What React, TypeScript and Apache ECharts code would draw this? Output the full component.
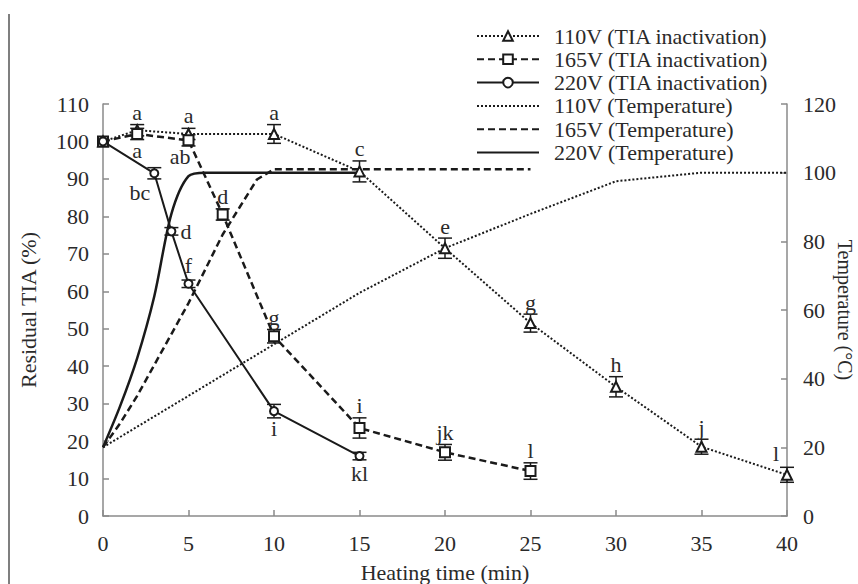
import React, { useEffect, useRef } from "react";
import * as echarts from "echarts";

// Residual TIA (%) — 110 V
const time110 = [0, 2, 5, 10, 15, 20, 25, 30, 35, 40];
const tia110 = [100, 103, 102, 102, 92, 71.5, 51.5, 34.5, 18.5, 11];
const err110 = [0, 1.5, 1.5, 2.5, 2.8, 2.7, 2.4, 2.7, 2, 2];
const letters110 = ["", "a", "a", "a", "c", "e", "g", "h", "j", "l"];
const pos110 = ["", "top", "top", "top", "top", "top", "top", "top", "top", "topleft"];

// Residual TIA (%) — 165 V
const time165 = [0, 2, 5, 7, 10, 15, 20, 25];
const tia165 = [100, 102, 100.3, 80.5, 48, 23.5, 17, 12];
const err165 = [0, 1.5, 1.5, 1.5, 1.8, 2.7, 2.1, 2.2];
const letters165 = ["", "a", "ab", "d", "g", "i", "jk", "l"];
const pos165 = ["", "bottom", "bottomleft", "top", "top", "top", "top", "top"];

// Residual TIA (%) — 220 V
const time220 = [0, 3, 4, 5, 10, 15];
const tia220 = [100, 91.5, 76, 62, 28, 16];
const err220 = [0, 1.5, 1, 1, 1.8, 1];
const letters220 = ["", "bc", "d", "f", "i", "kl"];
const pos220 = ["", "bcpos", "right", "top", "bottom", "bottom"];

// Temperature (°C)
const tTime110 = [0, 5, 10, 15, 20, 25, 30, 35, 40];
const temp110 = [20, 35, 50, 65, 78, 88, 97.5, 100, 100];
const tTime165 = [0, 1, 2, 3, 4, 5, 6, 7, 8, 9, 10, 15, 20, 25];
const temp165 = [20, 27, 35, 44, 53, 62, 72, 82, 90, 98, 101, 101, 101, 101];
const tTime220 = [0, 1, 2, 3, 4, 5, 6, 10, 15];
const temp220 = [20, 32, 46, 64, 88, 99, 100, 100, 100];

const xTicks = { min: 0, max: 40, interval: 5 };
const yLeftTicks = { min: 0, max: 110, interval: 10 };
const yRightTicks = { min: 0, max: 120, interval: 20 };

const seriesNames = [
  "110V (TIA inactivation)",
  "165V (TIA inactivation)",
  "220V (TIA inactivation)",
  "110V (Temperature)",
  "165V (Temperature)",
  "220V (Temperature)",
];
const rightAxisTitle = "Temperature (°C)";

const FONT = "'Liberation Serif', 'DejaVu Serif', serif";
const FS = 22;
const INK = "#1a1a1a";
const TXT = "#2a2a2a";
const AXIS = "#8a8a8a";

function zip(xs: number[], ys: number[]) {
  return xs.map((x, i) => [x, ys[i]]);
}

function errData(xs: number[], ys: number[], es: number[]) {
  return xs.map((x, i) => [x, ys[i], es[i]]);
}

function makeRender(letters: string[], positions: string[]) {
  return (params: any, api: any) => {
    const t = api.value(0);
    const v = api.value(1);
    const e = api.value(2);
    const p = api.coord([t, v]);
    const hi = api.coord([t, v + e]);
    const lo = api.coord([t, v - e]);
    const children: any[] = [];
    const st = { stroke: INK, lineWidth: 1.5 };
    if (e > 0) {
      children.push({ type: "line", shape: { x1: p[0], y1: hi[1], x2: p[0], y2: lo[1] }, style: st });
      children.push({ type: "line", shape: { x1: p[0] - 7, y1: hi[1], x2: p[0] + 7, y2: hi[1] }, style: st });
      children.push({ type: "line", shape: { x1: p[0] - 7, y1: lo[1], x2: p[0] + 7, y2: lo[1] }, style: st });
    }
    const letter = letters[params.dataIndex];
    const pos = positions[params.dataIndex];
    if (letter) {
      let x = p[0];
      let y = p[1];
      let align = "center";
      let va = "middle";
      const topY = Math.min(hi[1], p[1] - 6);
      const botY = Math.max(lo[1], p[1] + 6);
      if (pos === "top") {
        y = topY - 1;
        va = "bottom";
      } else if (pos === "bottom") {
        y = botY;
        va = "top";
      } else if (pos === "right") {
        x = p[0] + 9;
        align = "left";
      } else if (pos === "left") {
        x = p[0] - 9;
        align = "right";
      } else if (pos === "bottomleft") {
        x = p[0] + 2;
        y = p[1] + 5;
        align = "right";
        va = "top";
      } else if (pos === "bcpos") {
        x = p[0] - 4;
        y = p[1] + 8;
        align = "right";
        va = "top";
      } else if (pos === "topleft") {
        x = p[0] - 8;
        y = p[1] - 10;
        align = "right";
        va = "bottom";
      }
      children.push({
        type: "text",
        x,
        y,
        style: {
          text: letter,
          fill: TXT,
          font: `${FS}px ${FONT}`,
          align,
          verticalAlign: va,
        },
      });
    }
    return { type: "group", children };
  };
}

export default function App() {
  const ref = useRef<HTMLDivElement>(null);

  useEffect(() => {
    if (!ref.current) return;
    const chart = echarts.init(ref.current, null, { renderer: "svg" });

    const markerStyle = { color: "#ffffff", borderColor: INK, borderWidth: 2 };
    const dotted = [2, 2];
    const dashed = [7, 4];
    const hiddenSymbol = { color: "rgba(0,0,0,0)", borderColor: "rgba(0,0,0,0)", borderWidth: 0, opacity: 0 };

    const axisCommon = {
      axisLine: { show: true, lineStyle: { color: AXIS, width: 1.5 } },
      axisTick: { show: true, inside: true, length: 6, lineStyle: { color: AXIS, width: 1.5 } },
      splitLine: { show: false },
      axisLabel: { color: TXT, fontSize: FS, fontFamily: FONT },
      nameTextStyle: { color: TXT, fontSize: FS, fontFamily: FONT },
    };

    const option: any = {
      animation: false,
      backgroundColor: "#ffffff",
      textStyle: { fontFamily: FONT },
      grid: { left: 103, right: 71, top: 104, bottom: 68, containLabel: false, outerBoundsMode: "none" },
      legend: {
        data: [
          { name: seriesNames[0] },
          { name: seriesNames[1] },
          { name: seriesNames[2] },
          { name: seriesNames[3], itemStyle: hiddenSymbol },
          { name: seriesNames[4], itemStyle: hiddenSymbol },
          { name: seriesNames[5], itemStyle: hiddenSymbol },
        ],
        orient: "vertical",
        left: 471,
        top: 20,
        itemWidth: 62,
        itemHeight: 12,
        itemGap: 1.3,
        textStyle: { color: TXT, fontSize: FS, fontFamily: FONT, lineHeight: 22, padding: [0, 0, 0, 10] },
        selectedMode: false,
      },
      xAxis: {
        type: "value",
        ...xTicks,
        ...axisCommon,
        axisLabel: { ...axisCommon.axisLabel, margin: 16 },
        name: "Heating time (min)",
        nameLocation: "middle",
        nameGap: 45,
      },
      yAxis: [
        {
          type: "value",
          position: "left",
          ...yLeftTicks,
          ...axisCommon,
          axisLabel: { ...axisCommon.axisLabel, margin: 14 },
          name: "Residual TIA (%)",
          nameLocation: "middle",
          nameGap: 64,
        },
        {
          type: "value",
          position: "right",
          ...yRightTicks,
          ...axisCommon,
          axisLabel: { ...axisCommon.axisLabel, margin: 16 },
        },
      ],
      graphic: [
        {
          type: "line",
          shape: { x1: 9, y1: 14, x2: 9, y2: 584 },
          style: { stroke: "#555555", lineWidth: 1.5 },
        },
        {
          type: "text",
          x: 845,
          y: 310,
          rotation: -Math.PI / 2,
          style: {
            text: rightAxisTitle,
            fill: TXT,
            font: `20px ${FONT}`,
            align: "center",
            verticalAlign: "middle",
          },
        },
      ],
      series: [
        {
          name: seriesNames[3],
          type: "line",
          yAxisIndex: 1,
          data: zip(tTime110, temp110),
          symbol: "none",
          lineStyle: { color: INK, width: 2, type: dotted },
          itemStyle: { color: INK },
          z: 2,
        },
        {
          name: seriesNames[4],
          type: "line",
          yAxisIndex: 1,
          data: zip(tTime165, temp165),
          symbol: "none",
          lineStyle: { color: INK, width: 2.5, type: dashed },
          itemStyle: { color: INK },
          z: 2,
        },
        {
          name: seriesNames[5],
          type: "line",
          yAxisIndex: 1,
          data: zip(tTime220, temp220),
          smooth: 0.3,
          symbol: "none",
          lineStyle: { color: INK, width: 2.5, type: "solid" },
          itemStyle: { color: INK },
          z: 2,
        },
        {
          type: "custom",
          yAxisIndex: 0,
          renderItem: makeRender(letters110, pos110),
          data: errData(time110, tia110, err110),
          encode: { x: 0, y: 1 },
          z: 3,
          silent: true,
        },
        {
          type: "custom",
          yAxisIndex: 0,
          renderItem: makeRender(letters165, pos165),
          data: errData(time165, tia165, err165),
          encode: { x: 0, y: 1 },
          z: 3,
          silent: true,
        },
        {
          type: "custom",
          yAxisIndex: 0,
          renderItem: makeRender(letters220, pos220),
          data: errData(time220, tia220, err220),
          encode: { x: 0, y: 1 },
          z: 3,
          silent: true,
        },
        {
          name: seriesNames[0],
          type: "line",
          yAxisIndex: 0,
          data: zip(time110, tia110),
          symbol: "triangle",
          symbolSize: 10,
          showAllSymbol: true,
          lineStyle: { color: INK, width: 2, type: dotted },
          itemStyle: markerStyle,
          z: 4,
        },
        {
          name: seriesNames[1],
          type: "line",
          yAxisIndex: 0,
          data: zip(time165, tia165),
          symbol: "rect",
          symbolSize: 10,
          showAllSymbol: true,
          lineStyle: { color: INK, width: 2.5, type: dashed },
          itemStyle: markerStyle,
          z: 4,
        },
        {
          name: seriesNames[2],
          type: "line",
          yAxisIndex: 0,
          data: zip(time220, tia220),
          symbol: "circle",
          symbolSize: 8,
          showAllSymbol: true,
          lineStyle: { color: INK, width: 2, type: "solid" },
          itemStyle: markerStyle,
          z: 4,
        },
      ],
    };

    chart.setOption(option);
    return () => chart.dispose();
  }, []);

  return (
    <div
      ref={ref}
      style={{ position: "fixed", left: 0, top: 0, width: 858, height: 584, background: "#fff" }}
    />
  );
}
